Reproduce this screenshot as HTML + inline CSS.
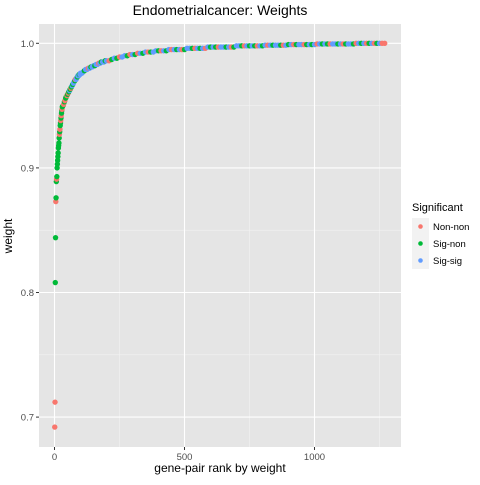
<!DOCTYPE html>
<html><head><meta charset="utf-8"><style>
body{margin:0;background:#fff;font-family:"Liberation Sans",sans-serif}
</style></head><body>
<svg id="c" width="480" height="480" xmlns="http://www.w3.org/2000/svg">
<rect x="0" y="0" width="480" height="480" fill="#fff"/>
<text x="220" y="15" text-anchor="middle" font-size="14" fill="#000">Endometrialcancer: Weights</text>
<g id="grid"></g>
<g id="pts"></g>
<g id="axes"></g>
<text x="220" y="472" text-anchor="middle" font-size="12">gene-pair rank by weight</text>
<text x="12" y="236" text-anchor="middle" font-size="12" transform="rotate(-90 12 236)">weight</text>
<g id="legend"></g>
</svg>
<script>
const ranks=[1,2,3,4,5,6,7,8,9,10,11,12,13,14,15,16,17,18,19,20,21,22,23,24,25,26,27,28,29,30,
33,35,38,40,43,45,48,50,53,55,58,60,63,65,68,70,73,75,78,80,83,85,88,90,93,95,98,100,
105,110,115,120,125,130,135,140,145,150,155,160,165,170,175,180,185,190,195,200,210,220,230,240,250,260,270,280,290,300,310,
320,330,340,350,360,370,380,390,400,410,420,430,440,450,
460,470,480,490,500,510,520,530,540,550,560,570,580,590,600,
610,620,630,640,650,660,670,680,690,700,710,720,730,740,750,760,770,780,790,800,
810,820,830,840,850,860,870,880,890,900,910,920,930,940,950,960,970,980,990,1000,
1010,1020,1030,1040,1050,1060,1070,1080,1090,1100,1110,1120,1130,1140,1150,1160,1170,1180,1190,1200,1210,1220,1230,1240,1250,1260,1270];
const weights=[.692,.712,.808,.844,.873,.876,.889,.891,.893,.9,.903,.906,.909,.912,.916,.918,.92,.924,.927,.929,.931,.934,.936,.938,.94,.942,.944,.946,.947,.949,
.950,.951,.953,.954,.956,.957,.958,.959,.960,.961,.962,.963,.964,.965,.966,.967,.968,.969,.970,.971,.971,.972,.973,.974,.974,.975,.975,.976,
.976,.977,.978,.979,.979,.980,.980,.981,.981,.982,.982,.983,.983,.984,.984,.985,.985,.985,.986,.986,.986,.987,.988,.988,.989,.989,.990,.990,.991,.991,.991,
.992,.992,.992,.993,.993,.993,.993,.994,.994,.994,.994,.994,.995,.995,
.995,.995,.995,.995,.995,.996,.996,.996,.996,.996,.996,.996,.996,.997,.997,
.997,.997,.997,.997,.997,.997,.997,.997,.997,.998,.998,.998,.998,.998,.998,.998,.998,.998,.998,.998,
.9985,.9985,.9985,.9985,.9985,.9985,.9985,.9985,.9985,.999,.999,.999,.999,.999,.999,.999,.999,.999,.999,.999,
.9995,.9995,.9995,.9995,.9995,.9995,.9995,.9995,.9995,.9995,.9995,.9995,.9995,.9995,.9995,1,1,1,1,1,1,1,1,1,1,1,1];
const groups="NNSSNSSNSSSSSSSSSSNSNSSNSNSSNS"+"SNSNSSNSNSBSNSBSBBSNBBSBBSBB"+"BBSBBNBSBBSBBNBSBBSBNSBSNBBSN"+"BSNBSBNSBBSNBSBNBSBNSBBSNBSBNBSBSNBBSBNSBBSNBSBSNBSBNBSBBSNBSBNSBBNSBSBNBSBSNBBSBNSBBSNBSBNSBN"+"SBNSNBSBNSNBSBNSNBSBSNBSNBSBNSBNSBNSBN";
const lastGroup="N";
const yTicks=[0.7,0.8,0.9,1.0], yTickLabels=["0.7","0.8","0.9","1.0"];
const xTicks=[0,500,1000], xTickLabels=["0","500","1000"];
const legendLabels=["Non-non","Sig-non","Sig-sig"];
const colors={N:"#F8766D",S:"#00BA38",B:"#619CFF"};
const P={l:39,r:401,t:24,b:447};
const X=v=>54.5+v*0.26, Y=v=>43.3+(1-v)*1246;
const NS="http://www.w3.org/2000/svg";
function mk(t,a,p){const e=document.createElementNS(NS,t);for(const k in a)e.setAttribute(k,a[k]);p.appendChild(e);return e;}
const g=document.getElementById('grid');
const bg=mk('rect',{x:P.l,y:P.t,width:P.r-P.l,height:P.b-P.t,fill:"#e5e5e5"},g);


[0.75,0.85,0.95].forEach(v=>mk('line',{x1:P.l,x2:P.r,y1:Y(v),y2:Y(v),stroke:"#f2f2f2","stroke-width":0.6},g));
[250,750,1250].forEach(v=>mk('line',{x1:X(v),x2:X(v),y1:P.t,y2:P.b,stroke:"#f2f2f2","stroke-width":0.6},g));
yTicks.forEach(v=>mk('line',{x1:P.l,x2:P.r,y1:Y(v),y2:Y(v),stroke:"#fff","stroke-width":1.1},g));
xTicks.forEach(v=>mk('line',{x1:X(v),x2:X(v),y1:P.t,y2:P.b,stroke:"#fff","stroke-width":1.1},g));
const ax=document.getElementById('axes');
yTicks.forEach((v,i)=>{mk('line',{x1:P.l-3,x2:P.l,y1:Y(v),y2:Y(v),stroke:"#333"},ax);
const t=mk('text',{x:P.l-5,y:Y(v)+3.5,"text-anchor":"end","font-size":9.5,fill:"#4d4d4d"},ax);t.textContent=yTickLabels[i];

});
xTicks.forEach((v,i)=>{mk('line',{x1:X(v),x2:X(v),y1:P.b,y2:P.b+3,stroke:"#333"},ax);
const t=mk('text',{x:X(v),y:P.b+13,"text-anchor":"middle","font-size":9.5,fill:"#4d4d4d"},ax);t.textContent=xTickLabels[i];

});
const pg=document.getElementById('pts');
ranks.forEach((r,i)=>{const gk=i===ranks.length-1?lastGroup:(groups[i]||"S");
const c=mk('circle',{cx:X(r),cy:Y(weights[i]),r:2.7,fill:colors[gk]},pg);

});
const lg=document.getElementById('legend');
const lt=mk('text',{x:412,y:211,"font-size":11,fill:"#000"},lg);lt.textContent="Significant";


["N","S","B"].forEach((k,i)=>{const y0=218+i*17;
const e=mk('g',{},lg);


mk('rect',{x:412,y:y0,width:17,height:17,fill:"#f2f2f2"},e);
mk('circle',{cx:420.5,cy:y0+8.5,r:2.3,fill:colors[k]},e);
const t=mk('text',{x:433,y:y0+12,"font-size":9.5,fill:"#000"},e);t.textContent=legendLabels[i];});
</script>
</body></html>
